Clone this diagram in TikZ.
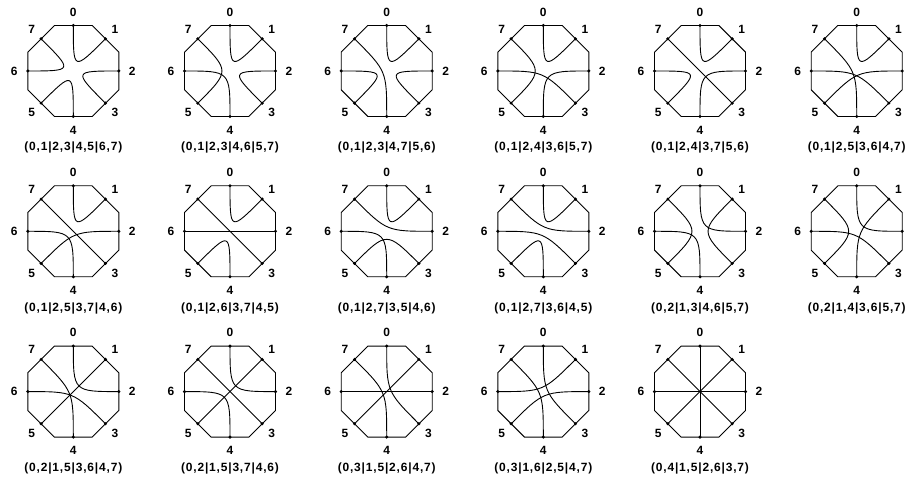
\documentclass[tikz,border=0pt]{standalone}
\usepackage{fontspec}
\setmainfont{Liberation Sans}
\newfontfamily\labfont{Liberation Sans}[LetterSpace=7]
\tikzset{
  octline/.style={line width=0.9bp, line join=miter},
  chord/.style={line width=0.9bp},
  lab/.style={font=\labfont\fontsize{12}{14}\selectfont\bfseries, inner sep=0pt},
  dotfill/.style={fill=black}
}
\newcommand\octagram[6]{%
  \begin{scope}[shift={(#2,#3)}]
    \coordinate (#1c) at (0,0);
    \draw[octline] (22.5:49.25) -- (67.5:49.25) -- (112.5:49.25) -- (157.5:49.25)
      -- (202.5:49.25) -- (247.5:49.25) -- (292.5:49.25) -- (337.5:49.25) -- cycle;
    \foreach \k in {0,...,7} {
      \coordinate (#1p\k) at ({90-45*\k}:45.5);
    }
    \foreach \k in {#6} {
      \node[lab] (#1l\k) at ({90-45*\k}:59) {\k};
    }
    \foreach \a/\b in {#5} {
      \draw[chord] (#1p\a) .. controls (#1c) and (#1c) .. (#1p\b);
    }
    \foreach \k in {0,...,7} {
      \fill[dotfill] (#1p\k) circle (1.7);
    }
    \node[lab] (#1cap) at (0,-77) {#4};
  \end{scope}
}
\begin{document}
\begin{tikzpicture}[x=1bp,y=1bp]
\useasboundingbox (0,0) rectangle (911,480);
\octagram{a}{73.3}{409}{(0,1|2,3|4,5|6,7)}{0/1,2/3,4/5,6/7}{0,1,2,3,4,5,6,7}
\octagram{b}{230}{409}{(0,1|2,3|4,6|5,7)}{0/1,2/3,4/6,5/7}{0,1,2,3,4,5,6,7}
\octagram{c}{386.7}{409}{(0,1|2,3|4,7|5,6)}{0/1,2/3,4/7,5/6}{0,1,2,3,4,5,6,7}
\octagram{d}{543.3}{409}{(0,1|2,4|3,6|5,7)}{0/1,2/4,3/6,5/7}{0,1,2,3,4,5,6,7}
\octagram{e}{700}{409}{(0,1|2,4|3,7|5,6)}{0/1,2/4,3/7,5/6}{0,1,2,3,4,5,6,7}
\octagram{f}{856.7}{409}{(0,1|2,5|3,6|4,7)}{0/1,2/5,3/6,4/7}{0,1,3,4,5,6,7}
\octagram{g}{73.3}{248.7}{(0,1|2,5|3,7|4,6)}{0/1,2/5,3/7,4/6}{0,1,2,3,4,5,6,7}
\octagram{h}{230}{248.7}{(0,1|2,6|3,7|4,5)}{0/1,2/6,3/7,4/5}{0,1,2,3,4,5,6,7}
\octagram{i}{386.7}{248.7}{(0,1|2,7|3,5|4,6)}{0/1,2/7,3/5,4/6}{0,1,2,3,4,5,6,7}
\octagram{j}{543.3}{248.7}{(0,1|2,7|3,6|4,5)}{0/1,2/7,3/6,4/5}{0,1,2,3,4,5,6,7}
\octagram{k}{700}{248.7}{(0,2|1,3|4,6|5,7)}{0/2,1/3,4/6,5/7}{0,1,2,3,4,5,6,7}
\octagram{l}{856.7}{248.7}{(0,2|1,4|3,6|5,7)}{0/2,1/4,3/6,5/7}{0,1,3,4,5,6,7}
\octagram{m}{73.3}{88.4}{(0,2|1,5|3,6|4,7)}{0/2,1/5,3/6,4/7}{0,1,2,3,4,5,6,7}
\octagram{n}{230}{88.4}{(0,2|1,5|3,7|4,6)}{0/2,1/5,3/7,4/6}{0,1,2,3,4,5,6,7}
\octagram{o}{386.7}{88.4}{(0,3|1,5|2,6|4,7)}{0/3,1/5,2/6,4/7}{0,1,2,3,4,5,6,7}
\octagram{p}{543.3}{88.4}{(0,3|1,6|2,5|4,7)}{0/3,1/6,2/5,4/7}{0,1,2,3,4,5,6,7}
\octagram{q}{700}{88.4}{(0,4|1,5|2,6|3,7)}{0/4,1/5,2/6,3/7}{0,1,2,3,4,5,6,7}
\end{tikzpicture}
\end{document}
